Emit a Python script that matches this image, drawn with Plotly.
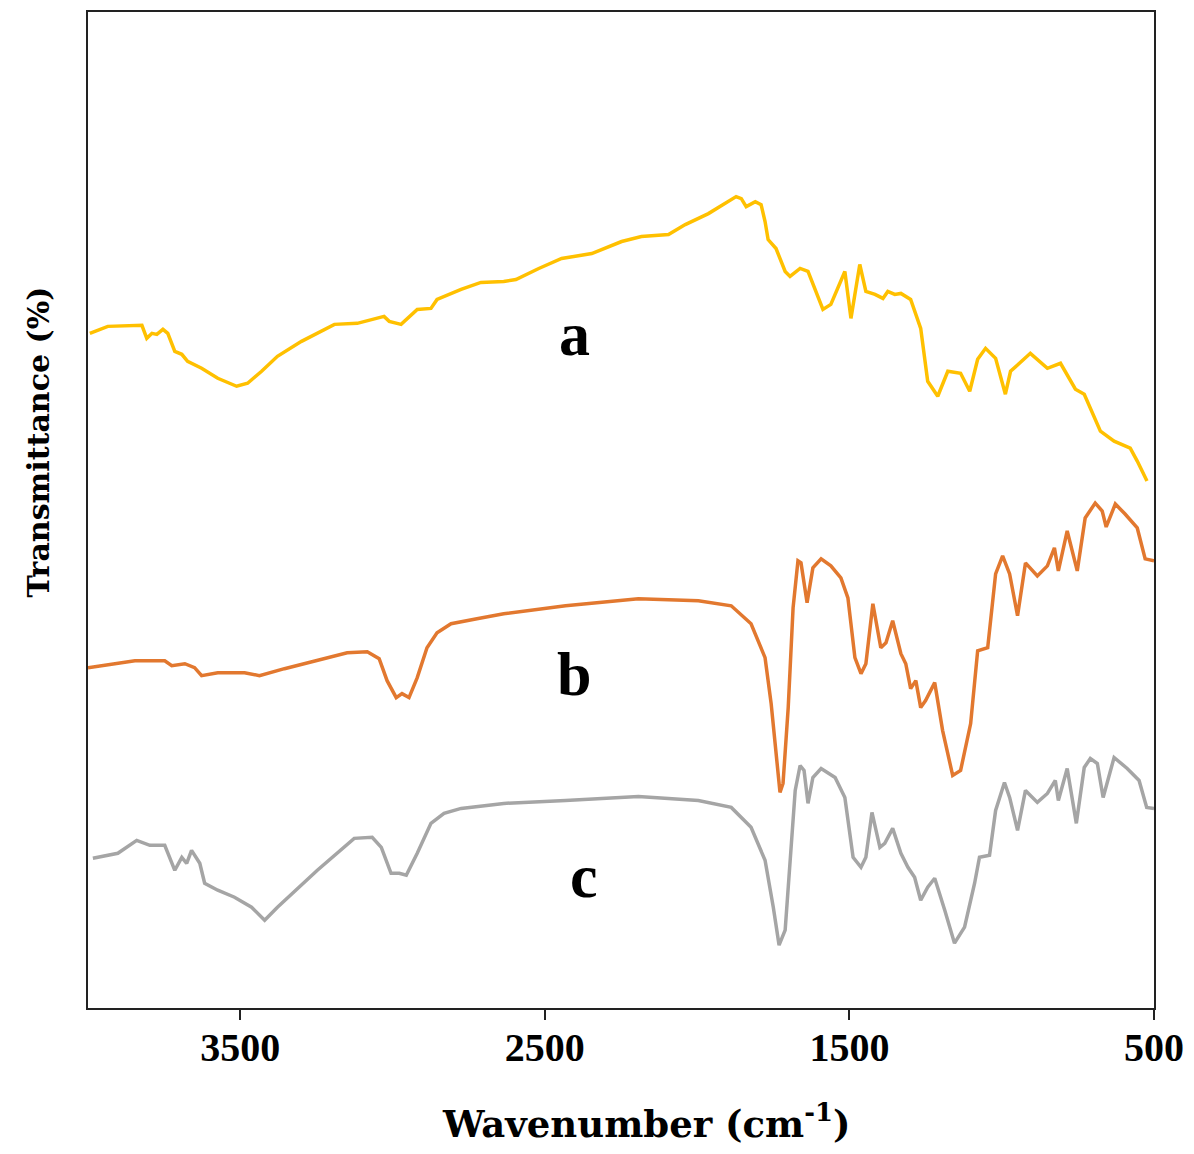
import plotly.graph_objects as go

# Wavenumber (cm-1) and transmittance (arbitrary offset %)
wn_a = [3994, 3935, 3823, 3807, 3790, 3774, 3754, 3738, 3715, 3692, 3673, 3627, 3574, 3512, 3476,
        3430, 3378, 3299, 3191, 3116, 3028, 3011, 2972, 2919, 2874, 2854, 2775, 2710, 2635, 2595,
        2520, 2445, 2346, 2248, 2183, 2094, 2039, 1963, 1872, 1855, 1839, 1809, 1790, 1777, 1767,
        1741, 1711, 1695, 1662, 1636, 1587, 1561, 1515, 1495, 1466, 1446, 1416, 1390, 1374, 1351,
        1331, 1299, 1266, 1243, 1210, 1177, 1135, 1105, 1079, 1053, 1020, 988, 971, 906, 850,
        807, 758, 729, 676, 631, 578, 555, 523]
t_a = [67.6, 68.3, 68.4, 67.1, 67.6, 67.5, 68.0, 67.6, 65.8, 65.5, 64.8, 64.1, 63.1, 62.3, 62.6,
       63.8, 65.3, 66.8, 68.5, 68.6, 69.3, 68.8, 68.5, 70.0, 70.1, 71.0, 72.0, 72.7, 72.8, 73.0,
       74.1, 75.1, 75.6, 76.8, 77.3, 77.5, 78.5, 79.6, 81.3, 81.1, 80.3, 80.8, 80.5, 78.8, 77.0,
       76.1, 73.8, 73.3, 74.1, 73.8, 70.0, 70.5, 73.8, 69.1, 74.5, 71.8, 71.5, 71.1, 71.8, 71.5,
       71.6, 71.0, 68.1, 62.8, 61.3, 63.8, 63.6, 61.8, 65.0, 66.1, 65.1, 61.5, 63.8, 65.6, 64.1,
       64.6, 62.0, 61.5, 57.8, 56.8, 56.1, 54.8, 52.8]

wn_b = [4000, 3846, 3748, 3725, 3682, 3650, 3627, 3574, 3486, 3437, 3355, 3247, 3149, 3083, 3044,
        3018, 2988, 2969, 2946, 2919, 2887, 2854, 2808, 2723, 2635, 2432, 2193, 1996, 1888, 1823,
        1777, 1757, 1741, 1728, 1718, 1701, 1685, 1669, 1659, 1639, 1620, 1593, 1561, 1528, 1505,
        1482, 1462, 1446, 1423, 1397, 1380, 1358, 1331, 1315, 1299, 1282, 1266, 1250, 1220, 1194,
        1161, 1135, 1102, 1079, 1046, 1020, 997, 974, 948, 922, 883, 850, 827, 814, 785,
        752, 726, 693, 670, 657, 627, 595, 555, 529, 500]
t_b = [34.1, 34.8, 34.8, 34.3, 34.5, 34.1, 33.3, 33.6, 33.6, 33.3, 34.0, 34.8, 35.6, 35.7, 35.0,
       32.8, 31.1, 31.5, 31.1, 33.1, 36.1, 37.6, 38.5, 39.0, 39.5, 40.3, 41.0, 40.8, 40.3, 38.5,
       35.1, 30.5, 25.1, 21.6, 22.5, 30.1, 40.1, 44.8, 44.6, 40.6, 44.1, 45.0, 44.3, 43.1, 41.1,
       35.1, 33.5, 34.5, 40.5, 36.1, 36.6, 38.8, 35.5, 34.5, 32.0, 32.8, 30.1, 30.8, 32.6, 27.8,
       23.3, 23.8, 28.5, 35.8, 36.1, 43.5, 45.3, 43.5, 39.3, 44.6, 43.3, 44.3, 46.1, 43.8, 47.8,
       43.8, 49.1, 50.6, 49.8, 48.2, 50.5, 49.5, 48.1, 45.0, 44.8]

wn_c = [3984, 3902, 3840, 3797, 3748, 3715, 3692, 3676, 3660, 3633, 3617, 3574, 3519, 3463, 3420,
        3378, 3247, 3126, 3067, 3037, 3005, 2978, 2955, 2919, 2874, 2831, 2775, 2635, 2432, 2193,
        1996, 1888, 1823, 1777, 1750, 1731, 1711, 1695, 1678, 1662, 1649, 1636, 1620, 1593, 1547,
        1515, 1488, 1462, 1446, 1426, 1400, 1384, 1358, 1331, 1308, 1286, 1266, 1243, 1220, 1187,
        1155, 1122, 1089, 1073, 1040, 1020, 991, 974, 948, 922, 883, 850, 824, 814, 785,
        755, 729, 709, 686, 667, 631, 588, 549, 524, 500]
t_c = [15.0, 15.5, 16.8, 16.3, 16.3, 13.8, 15.1, 14.5, 15.8, 14.5, 12.5, 11.8, 11.1, 10.1, 8.8,
       10.1, 13.8, 17.0, 17.1, 16.1, 13.5, 13.5, 13.3, 15.5, 18.5, 19.5, 20.0, 20.5, 20.8, 21.2,
       20.8, 20.1, 18.1, 14.8, 10.1, 6.3, 7.8, 15.1, 21.8, 24.3, 23.8, 20.5, 23.1, 24.0, 23.1,
       21.1, 15.1, 14.1, 15.1, 19.6, 16.1, 16.5, 18.0, 15.5, 14.1, 13.1, 10.8, 12.1, 13.0, 9.8,
       6.5, 8.1, 12.5, 15.1, 15.3, 19.8, 22.6, 21.1, 17.8, 21.8, 20.6, 21.5, 22.8, 20.8, 24.0,
       18.5, 24.1, 25.0, 24.5, 21.1, 25.1, 24.0, 22.8, 20.1, 20.0]

series_labels = ["a", "b", "c"]
label_wn = [2402, 2405, 2373]
label_t = [67.5, 33.5, 13.2]
tick_vals = [3500, 2500, 1500, 500]

fig = go.Figure()
fig.add_trace(go.Scatter(x=wn_a, y=t_a, mode="lines", name="a",
                         line=dict(color="#FFC000", width=3.5)))
fig.add_trace(go.Scatter(x=wn_b, y=t_b, mode="lines", name="b",
                         line=dict(color="#E2782F", width=3.5)))
fig.add_trace(go.Scatter(x=wn_c, y=t_c, mode="lines", name="c",
                         line=dict(color="#A5A5A5", width=3.5)))

for lab, x, y in zip(series_labels, label_wn, label_t):
    fig.add_annotation(x=x, y=y, text=lab, showarrow=False,
                       font=dict(family="Liberation Serif", size=62, color="black", weight="bold"),
                       xanchor="center", yanchor="middle")

fig.update_layout(
    width=1194, height=1154,
    margin=dict(l=88, r=37, t=10, b=146),
    paper_bgcolor="white", plot_bgcolor="white",
    showlegend=False,
    xaxis=dict(
        range=[4000, 500], tickvals=tick_vals, ticktext=[str(v) for v in tick_vals],
        ticks="outside", ticklen=10, tickwidth=2, tickcolor="#222",
        ticklabelstandoff=-7,
        showline=True, linecolor="#222", linewidth=2, mirror=True,
        showgrid=False, zeroline=False,
        tickfont=dict(family="Liberation Serif", size=40, color="black", weight="bold"),
        title=dict(text="&nbsp;&nbsp;&nbsp;&nbsp;Wavenumber (cm<sup>-1</sup>)", standoff=42,
                   font=dict(family="DejaVu Serif", size=37, color="black", weight="bold")),
    ),
    yaxis=dict(
        range=[0, 99.8], showticklabels=False, ticks="",
        showline=True, linecolor="#222", linewidth=2, mirror=True,
        showgrid=False, zeroline=False,
        title=dict(text="&nbsp;" * 13 + "Transmittance (%)", standoff=28,
                   font=dict(family="DejaVu Serif", size=30, color="black", weight="bold")),
    ),
)

fig.write_html("out.html")
